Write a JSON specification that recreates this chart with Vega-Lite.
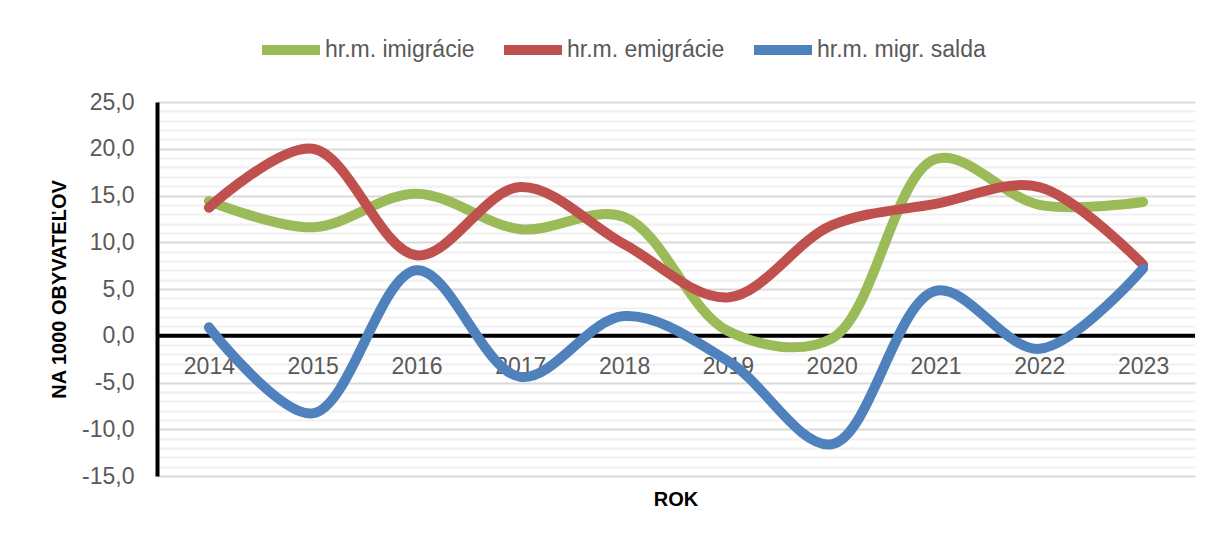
{
  "$schema": "https://vega.github.io/schema/vega-lite/v6.json",
  "width": 1038,
  "height": 374,
  "autosize": {"type": "none"},
  "padding": {"left": 157, "top": 102, "right": 28, "bottom": 60},
  "background": "white",
  "config": {"view": {"stroke": null}, "font": "Liberation Sans"},
  "title": {"text": "ROK", "orient": "bottom", "fontSize": 20, "fontWeight": "bold", "color": "black", "font": "Liberation Sans", "frame": "group", "anchor": "middle", "offset": 2},
  "data": {"values": [
    {"rok": "2014", "ukazovatel": "hr.m. imigrácie", "hodnota": 14.4},
    {"rok": "2015", "ukazovatel": "hr.m. imigrácie", "hodnota": 11.6},
    {"rok": "2016", "ukazovatel": "hr.m. imigrácie", "hodnota": 15.2},
    {"rok": "2017", "ukazovatel": "hr.m. imigrácie", "hodnota": 11.4},
    {"rok": "2018", "ukazovatel": "hr.m. imigrácie", "hodnota": 12.7},
    {"rok": "2019", "ukazovatel": "hr.m. imigrácie", "hodnota": 0.5},
    {"rok": "2020", "ukazovatel": "hr.m. imigrácie", "hodnota": -0.3},
    {"rok": "2021", "ukazovatel": "hr.m. imigrácie", "hodnota": 18.9},
    {"rok": "2022", "ukazovatel": "hr.m. imigrácie", "hodnota": 14.0},
    {"rok": "2023", "ukazovatel": "hr.m. imigrácie", "hodnota": 14.3},
    {"rok": "2014", "ukazovatel": "hr.m. emigrácie", "hodnota": 13.7},
    {"rok": "2015", "ukazovatel": "hr.m. emigrácie", "hodnota": 20.0},
    {"rok": "2016", "ukazovatel": "hr.m. emigrácie", "hodnota": 8.6},
    {"rok": "2017", "ukazovatel": "hr.m. emigrácie", "hodnota": 15.9},
    {"rok": "2018", "ukazovatel": "hr.m. emigrácie", "hodnota": 9.8},
    {"rok": "2019", "ukazovatel": "hr.m. emigrácie", "hodnota": 4.1},
    {"rok": "2020", "ukazovatel": "hr.m. emigrácie", "hodnota": 11.8},
    {"rok": "2021", "ukazovatel": "hr.m. emigrácie", "hodnota": 14.1},
    {"rok": "2022", "ukazovatel": "hr.m. emigrácie", "hodnota": 15.9},
    {"rok": "2023", "ukazovatel": "hr.m. emigrácie", "hodnota": 7.6},
    {"rok": "2014", "ukazovatel": "hr.m. migr. salda", "hodnota": 0.9},
    {"rok": "2015", "ukazovatel": "hr.m. migr. salda", "hodnota": -8.3},
    {"rok": "2016", "ukazovatel": "hr.m. migr. salda", "hodnota": 7.0},
    {"rok": "2017", "ukazovatel": "hr.m. migr. salda", "hodnota": -4.4},
    {"rok": "2018", "ukazovatel": "hr.m. migr. salda", "hodnota": 2.1},
    {"rok": "2019", "ukazovatel": "hr.m. migr. salda", "hodnota": -2.7},
    {"rok": "2020", "ukazovatel": "hr.m. migr. salda", "hodnota": -11.6},
    {"rok": "2021", "ukazovatel": "hr.m. migr. salda", "hodnota": 4.8},
    {"rok": "2022", "ukazovatel": "hr.m. migr. salda", "hodnota": -1.4},
    {"rok": "2023", "ukazovatel": "hr.m. migr. salda", "hodnota": 7.2}
  ]},
  "layer": [
    {
      "data": {"values": [{}]},
      "mark": {"type": "rule", "color": "black", "strokeWidth": 4},
      "encoding": {
        "y": {
          "datum": 0,
          "type": "quantitative",
          "scale": {"domain": [-15, 25], "nice": false, "zero": false},
          "axis": {
            "orient": "right",
            "values": [-14, -13, -12, -11, -9, -8, -7, -6, -4, -3, -2, -1, 1, 2, 3, 4, 6, 7, 8, 9, 11, 12, 13, 14, 16, 17, 18, 19, 21, 22, 23, 24],
            "grid": true,
            "gridColor": "#f0f0f0",
            "gridWidth": 2,
            "labels": false,
            "ticks": false,
            "domain": false,
            "title": null
          }
        }
      }
    },
    {
      "mark": {"type": "line", "interpolate": "catmull-rom", "strokeCap": "round", "strokeJoin": "round"},
      "encoding": {
        "x": {
          "field": "rok",
          "type": "ordinal",
          "scale": {"type": "point", "padding": 0.5},
          "axis": {"labelAngle": 0, "offset": -140, "domain": false, "ticks": false, "grid": false, "labelPadding": 19, "labelFontSize": 23, "labelColor": "#595959", "title": null}
        },
        "y": {
          "field": "hodnota",
          "type": "quantitative",
          "scale": {"domain": [-15, 25], "nice": false, "zero": false},
          "axis": {
            "orient": "left",
            "values": [-15, -10, -5, 0, 5, 10, 15, 20, 25],
            "grid": true,
            "gridColor": "#d9d9d9",
            "gridWidth": 2,
            "ticks": false,
            "domain": true,
            "domainColor": "black",
            "domainWidth": 4,
            "labelPadding": 23,
            "labelFontSize": 23,
            "labelColor": "#595959",
            "labelExpr": "replace(replace(format(datum.value, '.1f'), '.', ','), '\u2212', '-')",
            "title": "NA 1000 OBYVATEĽOV",
            "titleFontSize": 20,
            "titleFontWeight": "bold",
            "titleColor": "black",
            "titlePadding": 12
          }
        },
        "color": {
          "field": "ukazovatel",
          "type": "nominal",
          "sort": ["hr.m. imigrácie", "hr.m. emigrácie", "hr.m. migr. salda"],
          "scale": {"domain": ["hr.m. imigrácie", "hr.m. emigrácie", "hr.m. migr. salda"], "range": ["#9BBB59", "#C0504D", "#4F81BD"]},
          "legend": {"orient": "none", "legendX": 100, "legendY": -86, "direction": "horizontal", "title": null, "symbolType": "stroke", "symbolSize": 3364, "symbolStrokeWidth": 7, "labelFontSize": 23, "labelColor": "#595959", "labelLimit": 400, "columnPadding": 9, "labelOffset": 0}
        },
        "strokeWidth": {
          "field": "ukazovatel",
          "type": "ordinal",
          "scale": {"domain": ["hr.m. imigrácie", "hr.m. emigrácie", "hr.m. migr. salda"], "range": [10, 10, 15]},
          "legend": null
        }
      }
    }
  ],
  "resolve": {"axis": {"y": "independent"}}
}
